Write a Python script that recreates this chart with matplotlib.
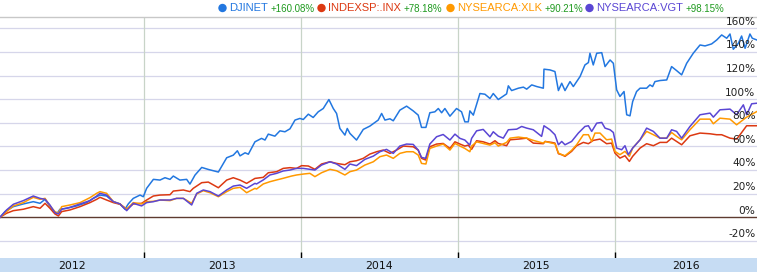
import matplotlib
matplotlib.use("Agg")
import matplotlib.pyplot as plt
import matplotlib.transforms as mtransforms

# ---------------- data (decimal years, percent change) ----------------
dj_t = [2012.083, 2012.115, 2012.168, 2012.232, 2012.295, 2012.338, 2012.370, 2012.401, 2012.423, 2012.444,
        2012.465, 2012.508, 2012.571, 2012.635, 2012.677, 2012.720, 2012.762, 2012.805, 2012.847, 2012.879,
        2012.900, 2012.932, 2012.975, 2012.996, 2013.017, 2013.060, 2013.102, 2013.134, 2013.166, 2013.187,
        2013.229, 2013.272, 2013.293, 2013.325, 2013.368, 2013.410, 2013.474, 2013.527, 2013.569, 2013.595,
        2013.612, 2013.644, 2013.665, 2013.707, 2013.749, 2013.771, 2013.792, 2013.834, 2013.866, 2013.898,
        2013.930, 2013.962, 2013.993, 2014.015, 2014.047, 2014.078, 2014.110, 2014.142, 2014.178, 2014.206,
        2014.227, 2014.248, 2014.280, 2014.295, 2014.312, 2014.354, 2014.397, 2014.439, 2014.492, 2014.514,
        2014.535, 2014.567, 2014.588, 2014.630, 2014.673, 2014.715, 2014.747, 2014.768, 2014.796, 2014.821,
        2014.853, 2014.875, 2014.896, 2014.917, 2014.949, 2014.991, 2015.023, 2015.044, 2015.066, 2015.076,
        2015.098, 2015.140, 2015.172, 2015.204, 2015.225, 2015.257, 2015.310, 2015.321, 2015.342, 2015.385,
        2015.417, 2015.438, 2015.470, 2015.502, 2015.544, 2015.548, 2015.586, 2015.618, 2015.640, 2015.661,
        2015.682, 2015.714, 2015.735, 2015.778, 2015.809, 2015.831, 2015.841, 2015.862, 2015.884, 2015.916,
        2015.937, 2015.969, 2015.990, 2016.011, 2016.032, 2016.058, 2016.075, 2016.096, 2016.113, 2016.138,
        2016.160, 2016.202, 2016.223, 2016.240, 2016.255, 2016.287, 2016.330, 2016.361, 2016.393, 2016.425,
        2016.457, 2016.499, 2016.542, 2016.574, 2016.616, 2016.648, 2016.680, 2016.712, 2016.733, 2016.754,
        2016.786, 2016.807, 2016.829, 2016.860, 2016.875, 2016.905]
dj_v = [0.0, 4.8, 9.0, 11.3, 13.2, 11.8, 15.2, 9.0, 4.8, 2.8,
        6.8, 7.6, 9.6, 12.4, 16.0, 18.8, 18.0, 13.2, 11.3, 6.8,
        11.3, 16.0, 18.8, 17.4, 24.5, 32.1, 31.5, 33.5, 32.1, 34.9,
        31.5, 32.1, 28.1, 35.7, 42.2, 40.5, 38.3, 50.4, 52.6, 56.3,
        52.0, 54.6, 53.4, 63.9, 66.8, 65.4, 70.4, 68.7, 73.2, 72.4,
        74.9, 82.3, 83.7, 82.8, 87.3, 84.5, 89.3, 92.1, 99.7, 92.1,
        87.9, 75.2, 69.6, 75.2, 71.0, 65.4, 74.4, 77.2, 82.3, 87.9,
        82.3, 83.4, 81.7, 90.7, 94.1, 90.1, 86.5, 76.1, 76.1, 88.5,
        89.3, 92.1, 88.5, 92.1, 85.6, 92.1, 89.3, 80.8, 80.8, 90.1,
        86.5, 104.8, 104.2, 100.6, 104.8, 99.7, 104.5, 111.3, 107.3, 109.3,
        110.2, 108.5, 112.1, 110.7, 109.3, 125.4, 124.8, 123.4, 107.3, 113.5,
        107.3, 114.9, 110.7, 119.2, 129.0, 131.0, 138.9, 129.0, 138.9, 139.4,
        127.6, 133.2, 130.4, 107.9, 102.3, 106.5, 86.8, 85.9, 98.0, 106.5,
        109.3, 109.3, 112.1, 110.7, 114.9, 115.8, 116.3, 127.6, 124.2, 120.6,
        130.4, 138.9, 145.9, 145.1, 146.8, 150.1, 154.4, 151.6, 155.2, 142.3,
        147.3, 153.5, 143.1, 155.2, 151.6, 150.1]

sp_t = [2012.083, 2012.125, 2012.168, 2012.232, 2012.295, 2012.338, 2012.370, 2012.401, 2012.433, 2012.455,
        2012.476, 2012.529, 2012.593, 2012.656, 2012.699, 2012.720, 2012.762, 2012.805, 2012.847, 2012.890,
        2012.932, 2012.985, 2013.017, 2013.060, 2013.102, 2013.166, 2013.187, 2013.251, 2013.293, 2013.314,
        2013.368, 2013.410, 2013.474, 2013.527, 2013.569, 2013.612, 2013.654, 2013.707, 2013.760, 2013.792,
        2013.845, 2013.887, 2013.930, 2013.972, 2014.004, 2014.047, 2014.089, 2014.131, 2014.185, 2014.227,
        2014.280, 2014.312, 2014.354, 2014.397, 2014.439, 2014.482, 2014.524, 2014.567, 2014.609, 2014.652,
        2014.715, 2014.747, 2014.768, 2014.794, 2014.821, 2014.864, 2014.906, 2014.949, 2014.981, 2015.013,
        2015.044, 2015.066, 2015.087, 2015.119, 2015.161, 2015.204, 2015.236, 2015.257, 2015.310, 2015.332,
        2015.385, 2015.438, 2015.480, 2015.544, 2015.555, 2015.597, 2015.618, 2015.640, 2015.661, 2015.682,
        2015.724, 2015.756, 2015.799, 2015.831, 2015.862, 2015.905, 2015.947, 2015.979, 2016.000, 2016.032,
        2016.064, 2016.092, 2016.113, 2016.160, 2016.202, 2016.245, 2016.287, 2016.330, 2016.361, 2016.393,
        2016.425, 2016.478, 2016.542, 2016.606, 2016.648, 2016.680, 2016.733, 2016.775, 2016.797, 2016.839,
        2016.905]
sp_v = [0.0, 3.4, 5.6, 6.8, 9.0, 7.6, 11.8, 7.6, 2.8, 1.1,
        4.8, 6.2, 9.0, 12.4, 15.2, 16.9, 14.6, 12.4, 11.0, 6.8,
        11.3, 11.8, 14.6, 18.0, 18.8, 19.1, 22.2, 23.1, 21.7, 24.5,
        29.3, 29.8, 25.0, 31.5, 33.5, 31.5, 28.7, 32.9, 33.8, 37.7,
        38.6, 41.4, 42.0, 41.4, 43.7, 43.4, 40.6, 45.1, 47.0, 45.6,
        44.5, 47.0, 47.9, 49.9, 53.5, 55.5, 56.9, 54.1, 56.9, 60.3,
        59.7, 56.9, 49.9, 48.5, 59.7, 62.0, 62.5, 58.3, 63.9, 62.0,
        60.3, 61.1, 57.5, 64.8, 63.9, 62.0, 64.8, 62.5, 60.6, 65.6,
        66.2, 67.0, 62.8, 62.3, 64.2, 63.4, 62.8, 53.8, 53.0, 51.6,
        55.8, 60.6, 63.4, 62.3, 65.1, 66.2, 62.3, 62.8, 54.4, 50.1,
        52.1, 47.3, 51.6, 58.6, 62.3, 60.6, 63.4, 63.4, 67.0, 64.2,
        61.4, 69.0, 71.3, 70.7, 69.9, 69.9, 67.0, 66.2, 69.9, 77.5,
        77.5]

xlk_t = [2012.083, 2012.125, 2012.168, 2012.232, 2012.295, 2012.338, 2012.370, 2012.401, 2012.433, 2012.455,
         2012.476, 2012.529, 2012.593, 2012.656, 2012.699, 2012.720, 2012.762, 2012.805, 2012.847, 2012.890,
         2012.932, 2012.985, 2013.017, 2013.060, 2013.102, 2013.166, 2013.208, 2013.251, 2013.304, 2013.336,
         2013.378, 2013.421, 2013.474, 2013.527, 2013.569, 2013.612, 2013.654, 2013.707, 2013.717, 2013.760,
         2013.802, 2013.845, 2013.887, 2013.940, 2013.972, 2014.015, 2014.057, 2014.089, 2014.131, 2014.185,
         2014.227, 2014.280, 2014.312, 2014.354, 2014.407, 2014.461, 2014.503, 2014.545, 2014.588, 2014.630,
         2014.673, 2014.715, 2014.747, 2014.768, 2014.796, 2014.821, 2014.864, 2014.906, 2014.949, 2014.981,
         2015.013, 2015.044, 2015.076, 2015.087, 2015.119, 2015.161, 2015.204, 2015.236, 2015.257, 2015.310,
         2015.332, 2015.385, 2015.438, 2015.480, 2015.544, 2015.555, 2015.597, 2015.618, 2015.640, 2015.661,
         2015.682, 2015.724, 2015.756, 2015.799, 2015.831, 2015.852, 2015.873, 2015.905, 2015.947, 2015.979,
         2016.000, 2016.032, 2016.064, 2016.092, 2016.113, 2016.160, 2016.202, 2016.245, 2016.287, 2016.330,
         2016.361, 2016.393, 2016.425, 2016.478, 2016.542, 2016.606, 2016.627, 2016.669, 2016.733, 2016.775,
         2016.839, 2016.905]
xlk_v = [0.0, 4.8, 9.6, 12.4, 16.9, 15.2, 16.0, 9.6, 4.8, 3.4,
         9.0, 10.4, 12.4, 16.6, 20.3, 21.7, 20.3, 13.2, 11.3, 6.8,
         12.4, 11.3, 13.2, 13.5, 14.6, 14.1, 16.0, 16.0, 11.8, 19.7,
         22.5, 20.8, 17.4, 21.7, 24.5, 25.3, 20.8, 24.5, 23.9, 28.2,
         30.1, 31.6, 33.0, 34.9, 35.8, 36.6, 37.2, 34.4, 37.7, 40.6,
         39.4, 35.8, 38.6, 40.0, 44.2, 47.0, 51.3, 52.7, 49.9, 54.1,
         55.5, 55.5, 52.7, 45.6, 45.1, 58.3, 60.3, 62.0, 56.9, 62.5,
         60.3, 58.3, 55.5, 60.3, 63.9, 62.5, 61.1, 63.1, 60.3, 63.4,
         67.0, 67.9, 67.0, 65.1, 62.8, 64.2, 62.8, 62.3, 54.4, 53.0,
         52.1, 56.6, 61.4, 69.9, 69.9, 64.2, 71.3, 71.3, 65.6, 66.2,
         55.8, 53.0, 55.8, 51.6, 58.6, 65.6, 72.7, 69.9, 67.0, 67.0,
         71.8, 68.5, 65.6, 74.1, 83.1, 83.1, 79.2, 83.9, 83.1, 78.3,
         84.8, 89.6]

vgt_t = [2012.083, 2012.125, 2012.168, 2012.232, 2012.295, 2012.338, 2012.370, 2012.401, 2012.433, 2012.455,
         2012.476, 2012.529, 2012.593, 2012.656, 2012.699, 2012.720, 2012.762, 2012.805, 2012.847, 2012.890,
         2012.932, 2012.985, 2013.017, 2013.060, 2013.102, 2013.166, 2013.208, 2013.251, 2013.304, 2013.336,
         2013.378, 2013.421, 2013.474, 2013.527, 2013.569, 2013.612, 2013.654, 2013.707, 2013.717, 2013.760,
         2013.802, 2013.845, 2013.887, 2013.930, 2013.972, 2014.015, 2014.057, 2014.089, 2014.131, 2014.185,
         2014.227, 2014.280, 2014.312, 2014.354, 2014.407, 2014.461, 2014.503, 2014.545, 2014.588, 2014.630,
         2014.673, 2014.715, 2014.747, 2014.768, 2014.794, 2014.821, 2014.864, 2014.906, 2014.949, 2014.981,
         2015.013, 2015.044, 2015.076, 2015.087, 2015.119, 2015.161, 2015.204, 2015.225, 2015.257, 2015.289,
         2015.321, 2015.374, 2015.406, 2015.438, 2015.480, 2015.533, 2015.548, 2015.586, 2015.618, 2015.640,
         2015.661, 2015.682, 2015.724, 2015.767, 2015.809, 2015.831, 2015.852, 2015.884, 2015.916, 2015.937,
         2015.969, 2015.990, 2016.011, 2016.043, 2016.064, 2016.085, 2016.113, 2016.160, 2016.202, 2016.245,
         2016.287, 2016.330, 2016.361, 2016.393, 2016.425, 2016.478, 2016.542, 2016.606, 2016.627, 2016.669,
         2016.733, 2016.775, 2016.818, 2016.839, 2016.871, 2016.905]
vgt_v = [0.0, 6.2, 11.0, 14.1, 18.0, 16.0, 15.2, 10.4, 3.9, 2.8,
         6.8, 8.4, 11.3, 14.1, 18.0, 20.3, 18.8, 13.2, 11.3, 5.6,
         11.8, 9.6, 12.4, 13.2, 14.6, 14.6, 16.0, 16.0, 10.4, 20.3,
         23.1, 21.7, 18.0, 23.1, 26.4, 27.3, 24.5, 28.7, 28.2, 31.6,
         35.8, 37.2, 39.2, 40.0, 41.4, 41.4, 40.6, 40.0, 44.2, 47.0,
         45.1, 40.6, 45.1, 43.7, 49.0, 51.8, 55.5, 57.5, 54.1, 60.3,
         62.0, 61.7, 56.9, 50.7, 49.9, 62.0, 68.2, 70.1, 65.4, 70.4,
         66.8, 65.4, 61.1, 66.8, 73.2, 74.4, 68.2, 72.4, 68.7, 67.0,
         74.1, 74.6, 76.9, 75.5, 74.1, 68.5, 77.5, 74.1, 69.9, 61.4,
         64.2, 61.4, 64.2, 71.3, 76.9, 77.5, 72.7, 79.7, 80.3, 75.5,
         74.1, 71.8, 58.6, 57.2, 60.6, 53.0, 58.6, 65.6, 75.5, 72.7,
         67.0, 67.0, 74.1, 72.7, 67.0, 76.9, 86.8, 88.2, 84.8, 91.0,
         91.6, 86.8, 95.2, 86.8, 96.1, 96.6]

series_names = ["DJINET", "INDEXSP:.INX", "NYSEARCA:XLK", "NYSEARCA:VGT"]
series_changes = ["+160.08%", "+78.18%", "+90.21%", "+98.15%"]
y_ticks = [-20, 0, 20, 40, 60, 80, 100, 120, 140, 160]
year_bounds = [2013, 2014, 2015, 2016]
year_labels = ["2012", "2013", "2014", "2015", "2016"]

# ---------------- styling ----------------
colors = ["#2277e0", "#dc3912", "#ff9900", "#5a46d4"]
W, H = 757, 272
fig = plt.figure(figsize=(W / 100, H / 100), dpi=100)
fig.patch.set_facecolor("white")
plt.rcParams["font.family"] = ["DejaVu Sans"]

x0, x1 = 2012.083, 2016.905
ax = fig.add_axes([0, 14 / H, 1, (258 - 17) / H])
ax.set_xlim(x0, x1)
ax.set_ylim(-34.5, 169.6)
ax.set_facecolor("white")
for s in ["left", "right", "bottom"]:
    ax.spines[s].set_visible(False)
ax.spines["top"].set_color("#c8c8c8")
ax.spines["top"].set_linewidth(1.0)

# horizontal gridlines
for t in y_ticks:
    if t == 0:
        continue
    ax.axhline(t, color="#d6d6ea", lw=0.9, zorder=1)
# vertical year lines
for b in year_bounds:
    ax.axvline(b, color="#c8d4c8", lw=0.9, zorder=1)

ax.set_xticks(year_bounds)
ax.set_yticks([])
ax.tick_params(axis="x", direction="in", length=4.5, width=1.0, color="black",
               labelbottom=False, bottom=True, top=False)

all_t = [dj_t, sp_t, xlk_t, vgt_t]
all_v = [dj_v, sp_v, xlk_v, vgt_v]
for t, v, c in zip(all_t, all_v, colors):
    ax.plot(t, v, color=c, lw=1.1, zorder=3, solid_joinstyle="round")

ax.axhline(0, color="#5e3b30", lw=1.0, zorder=2)

# y labels inside at right, sitting above gridlines
off = mtransforms.offset_copy(ax.get_yaxis_transform(), fig=fig, x=0, y=1.2, units="points")
for t in y_ticks:
    ax.text(0.998, t, f"{t}%", transform=off, ha="right", va="bottom",
            fontsize=7.6, color="#222222", zorder=5)

# bottom band with years
band = fig.add_axes([0, 0, 1, 14 / H])
band.set_xlim(x0, x1)
band.set_ylim(0, 1)
band.set_facecolor("#c6dcf3")
band.set_xticks([])
band.set_yticks([])
for s in band.spines.values():
    s.set_visible(False)
edges = [x0] + year_bounds + [x1]
for i, lab in enumerate(year_labels):
    band.text((edges[i] + edges[i + 1]) / 2, 0.45, lab, ha="center", va="center",
              fontsize=7.8, color="#111111")

# legend at top
fig.canvas.draw()
renderer = fig.canvas.get_renderer()
starts = [218, 317, 446, 585]
ycen = H - 8
for name, chg, c, sx in zip(series_names, series_changes, colors, starts):
    fig.patches.append(matplotlib.patches.Circle((sx + 4.5, ycen), 4.2, transform=None,
                                                 facecolor=c, edgecolor="none"))
    t1 = fig.text((sx + 11) / W, ycen / H, name, color=c, fontsize=8.0,
                  family="Liberation Sans", ha="left", va="center")
    bb = t1.get_window_extent(renderer)
    fig.text((bb.x1 + 3) / W, (ycen - 0.5) / H, chg, color="#1f9a1f", fontsize=7.0,
             family="Liberation Sans", ha="left", va="center")

fig.savefig("out.png", dpi=100, facecolor="white")
